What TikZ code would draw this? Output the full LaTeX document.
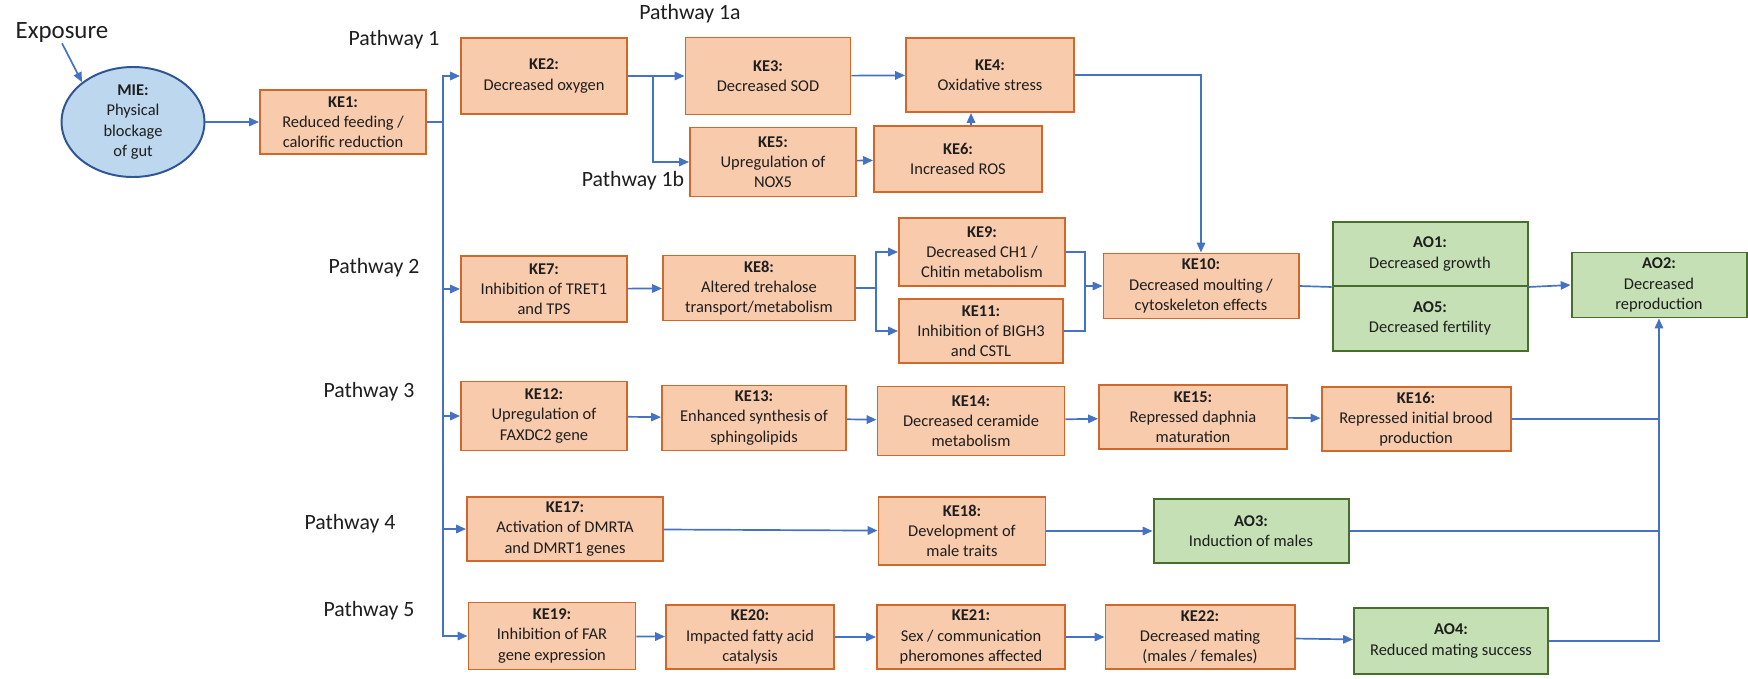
\documentclass[tikz,border=0pt]{standalone}
\usepackage{fontspec}
\setmainfont{Carlito}
\usetikzlibrary{shapes.geometric,arrows.meta}
\definecolor{kefill}{RGB}{248,203,173}
\definecolor{keline}{RGB}{207,104,40}
\definecolor{aofill}{RGB}{197,224,180}
\definecolor{aoline}{RGB}{72,110,45}
\definecolor{miefill}{RGB}{189,215,238}
\definecolor{mieline}{RGB}{47,85,151}
\definecolor{linkblue}{RGB}{68,114,196}
\definecolor{txtgray}{RGB}{30,30,30}

\tikzset{
  ke/.style={draw=keline, fill=kefill, line width=1.4pt, align=center, inner sep=0pt,
    text=txtgray, font=\fontsize{11.7}{14.4}\selectfont},
  ao/.style={ke, draw=aoline, fill=aofill},
  wh/.style 2 args={minimum width=#1*0.025cm, minimum height=#2*0.025cm},
  link/.style={draw=linkblue, line width=1.2pt},
  arr/.style={link, -{Triangle[length=7pt,width=6pt]}},
  pathlbl/.style={font=\fontsize{15.5}{18}\selectfont, text=txtgray, inner sep=0pt}
}

\begin{document}
\begin{tikzpicture}[x=0.025cm, y=-0.025cm]

\useasboundingbox (0,0) rectangle (1748,678);

% Exposure and MIE
\node[font=\fontsize{17.7}{20}\selectfont, text=txtgray, inner sep=0pt] (expo) at (62,33) {Exposure};
\node[ellipse, draw=mieline, fill=miefill, line width=1.4pt, inner sep=0pt, align=center,
  text=txtgray, font=\fontsize{11.7}{14.4}\selectfont, wh={143}{110}] (MIE) at (133,122)
  {\textbf{MIE:}\\Physical\\blockage\\of gut};

% Key events
\node[ke, wh={166}{64}] (KE1) at (343,122) {\textbf{KE1:}\\Reduced feeding /\\calorific reduction};

% Pathway 1
\node[ke, wh={166}{76}] (KE2) at (544,76) {\textbf{KE2:}\\Decreased oxygen};
\node[ke, wh={165}{77}] (KE3) at (768,76) {\textbf{KE3:}\\Decreased SOD};
\node[ke, wh={168}{74}] (KE4) at (990,75) {\textbf{KE4:}\\Oxidative stress};
\node[ke, wh={166}{69}] (KE5) at (773,162) {\textbf{KE5:}\\Upregulation of\\NOX5};
\node[ke, wh={168}{66}] (KE6) at (958,159) {\textbf{KE6:}\\Increased ROS};

% Pathway 2
\node[ke, wh={166}{66}] (KE7) at (544,289) {\textbf{KE7:}\\Inhibition of TRET1\\and TPS};
\node[ke, wh={192}{65}] (KE8) at (759,288) {\textbf{KE8:}\\Altered trehalose\\transport/metabolism};
\node[ke, wh={166}{68}] (KE9) at (982,252) {\textbf{KE9:}\\Decreased CH1 /\\Chitin metabolism};
\node[ke, wh={164}{64}] (KE11) at (981,331) {\textbf{KE11:}\\Inhibition of BIGH3\\and CSTL};
\node[ke, wh={195}{65}] (KE10) at (1201,286) {\textbf{KE10:}\\Decreased moulting /\\cytoskeleton effects};

% Pathway 3
\node[ke, wh={166}{69}] (KE12) at (544,416) {\textbf{KE12:}\\Upregulation of\\FAXDC2 gene};
\node[ke, wh={184}{65}] (KE13) at (754,418) {\textbf{KE13:}\\Enhanced synthesis of\\sphingolipids};
\node[ke, wh={187}{69}] (KE14) at (971,421) {\textbf{KE14:}\\Decreased ceramide\\metabolism};
\node[ke, wh={188}{64}] (KE15) at (1193,417) {\textbf{KE15:}\\Repressed daphnia\\maturation};
\node[ke, wh={189}{64}] (KE16) at (1416,419) {\textbf{KE16:}\\Repressed initial brood\\production};

% Pathway 4
\node[ke, wh={196}{64}] (KE17) at (565,529) {\textbf{KE17:}\\Activation of DMRTA\\and DMRT1 genes};
\node[ke, wh={167}{68}] (KE18) at (962,531) {\textbf{KE18:}\\Development of\\male traits};

% Pathway 5
\node[ke, wh={167}{67}] (KE19) at (552,636) {\textbf{KE19:}\\Inhibition of FAR\\gene expression};
\node[ke, wh={168}{64}] (KE20) at (750,637) {\textbf{KE20:}\\Impacted fatty acid\\catalysis};
\node[ke, wh={188}{64}] (KE21) at (971,637) {\textbf{KE21:}\\Sex / communication\\pheromones affected};
\node[ke, wh={189}{64}] (KE22) at (1200,637) {\textbf{KE22:}\\Decreased mating\\(males / females)};

% Adverse outcomes
\node[ao, wh={195}{64}] (AO1) at (1430,254) {\textbf{AO1:}\\Decreased growth};
\node[ao, wh={195}{65}] (AO5) at (1430,318.5) {\textbf{AO5:}\\Decreased fertility};
\node[ao, wh={175}{65}] (AO2) at (1659,285) {\textbf{AO2:}\\Decreased\\reproduction};
\node[ao, wh={195}{64}] (AO3) at (1251,531) {\textbf{AO3:}\\Induction of males};
\node[ao, wh={194}{66}] (AO4) at (1451,641) {\textbf{AO4:}\\Reduced mating success};

% Pathway labels
\node[pathlbl] (p1) at (394,40) {Pathway 1};
\node[pathlbl] (p1a) at (690,14) {Pathway 1a};
\node[pathlbl] (p1b) at (633,181) {Pathway 1b};
\node[pathlbl] (p2) at (374,268) {Pathway 2};
\node[pathlbl] (p3) at (369,392) {Pathway 3};
\node[pathlbl] (p4) at (350,524) {Pathway 4};
\node[pathlbl] (p5) at (369,611) {Pathway 5};

% Connectors
\draw[arr] (expo.south) -- (MIE.142);

\coordinate (trunk) at (443,122);
\draw[link] (KE1.east) -- (trunk);
\foreach \n in {KE2,KE7,KE12,KE17,KE19}
  \draw[arr] (trunk) |- (\n.west);

\foreach \a/\b in {MIE/KE1,KE3/KE4,KE5/KE6,KE7/KE8,KE12/KE13,KE13/KE14,KE14/KE15,
  KE15/KE16,KE17/KE18,KE18/AO3,KE19/KE20,KE20/KE21,KE21/KE22,KE22/AO4}
  \draw[arr] (\a) -- (\b);

% split 1a / 1b
\coordinate (split1) at (653,76);
\draw[arr] (KE2.east) -- (KE3.west);
\draw[arr] (split1) |- (KE5.west);
\coordinate (up6) at (971,0);
\draw[arr] (KE6.north -| up6) -- (KE4.south -| up6);
\draw[arr] (KE4.east) -| (KE10.north);

% split / merge of pathway 2
\coordinate (split2) at (876,288);
\draw[link] (KE8.east) -- (split2);
\draw[arr] (split2) |- (KE9.west);
\draw[arr] (split2) |- (KE11.west);
\coordinate (merge2) at (1085,286);
\draw[link] (KE9.east) -| (merge2);
\draw[link] (KE11.east) -| (merge2);
\draw[arr] (merge2) -- (KE10.west);
\draw[link] (KE10.east) -- (AO1.south west);
\draw[arr] (AO1.south east) -- (AO2.west);

% into AO2 from below
\draw[arr] (AO4.east) -| (AO2.south);
\draw[link] (KE16.east) -- (KE16.east -| AO2.south);
\draw[link] (AO3.east) -- (AO3.east -| AO2.south);

\end{tikzpicture}
\end{document}
